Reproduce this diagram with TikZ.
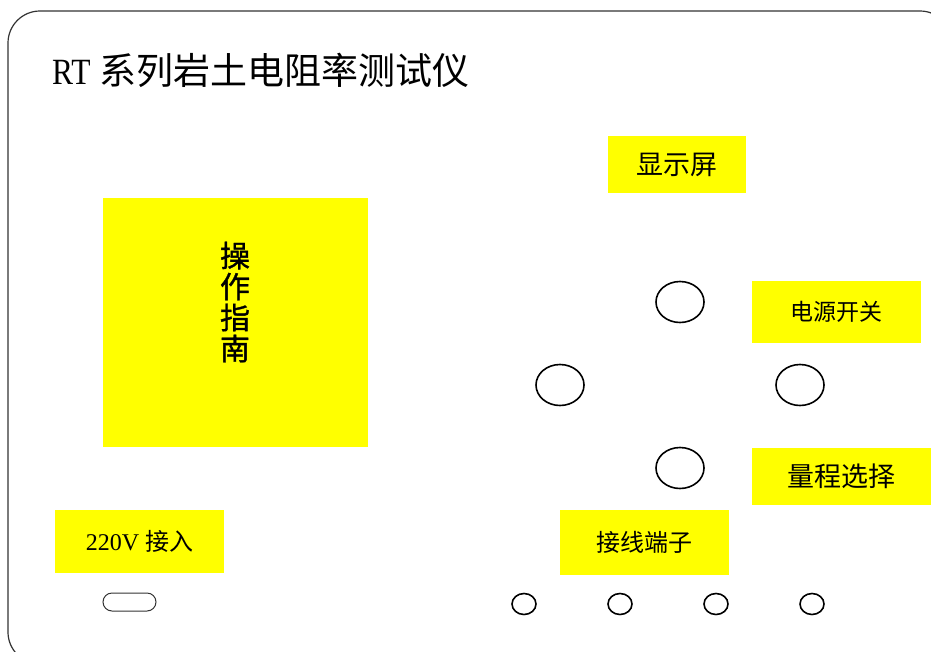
\documentclass[tikz,border=0pt]{standalone}
\usepackage{fontspec}
\setmainfont{Liberation Serif}
\newfontfamily\cjk{Noto Sans CJK SC}
\newfontfamily\cjkheavy[FakeBold=1.2]{Noto Sans CJK SC}
\newcommand\pxsize[1]{\fontsize{#1}{#1}\selectfont}
\definecolor{tagyellow}{RGB}{255,255,0}
\usetikzlibrary{shapes.geometric}
\begin{document}
\begin{tikzpicture}[x=1pt,y=-1pt,
    tag/.style={fill=tagyellow,inner sep=0pt},
    knob/.style={draw,ellipse,line width=1.6pt,minimum width=48pt,minimum height=41pt,inner sep=0pt},
    jack/.style={draw,ellipse,line width=1.6pt,minimum width=24pt,minimum height=21pt,inner sep=0pt}]
    \clip (0,0) rectangle (931,651);
    % panel outline
    \draw[line width=1.2pt,black!80,rounded corners=32pt] (8,11) rectangle (952,664);
    \node[anchor=west,inner sep=0pt] (title) at (52,70) {\pxsize{37}\scalebox{0.85}[1]{RT} \cjk 系列岩土电阻率测试仪};
    % labels
    \node[tag,minimum width=138pt,minimum height=57pt,font=\cjk\pxsize{27}] (screen) at (677,164.5) {显示屏};
    \node[tag,minimum width=265pt,minimum height=249pt] (guide) at (235.5,322.5) {};
    \node[align=center,font=\cjkheavy\pxsize{30},inner sep=0pt] (guidetext) at (235,302) {操\\[1pt]作\\[1pt]指\\[1pt]南};
    \node[tag,minimum width=169pt,minimum height=62pt,font=\cjk\pxsize{23}] (power) at (836.5,312) {电源开关};
    \node[tag,minimum width=179pt,minimum height=57pt,font=\cjk\pxsize{27}] (range) at (841.5,476.5) {量程选择};
    \node[tag,minimum width=169pt,minimum height=63pt,font=\pxsize{24}] (mains) at (139.5,541.5) {220V \cjk 接入};
    \node[tag,minimum width=169pt,minimum height=65pt,font=\cjk\pxsize{24}] (terminal) at (644.5,542.5) {接线端子};
    % knobs
    \node[knob] (knobtop) at (680,302) {};
    \node[knob] (knobleft) at (560,385) {};
    \node[knob] (knobright) at (800,385) {};
    \node[knob] (knobbottom) at (680,468) {};
    % terminals and socket
    \foreach \i/\x in {1/524,2/620,3/716,4/812}
        \node[jack] (jack\i) at (\x,604) {};
    \node[draw,line width=1pt,black!80,rounded corners=9pt,minimum width=53pt,minimum height=18pt,inner sep=0pt] (socket) at (129.5,602) {};
\end{tikzpicture}
\end{document}
